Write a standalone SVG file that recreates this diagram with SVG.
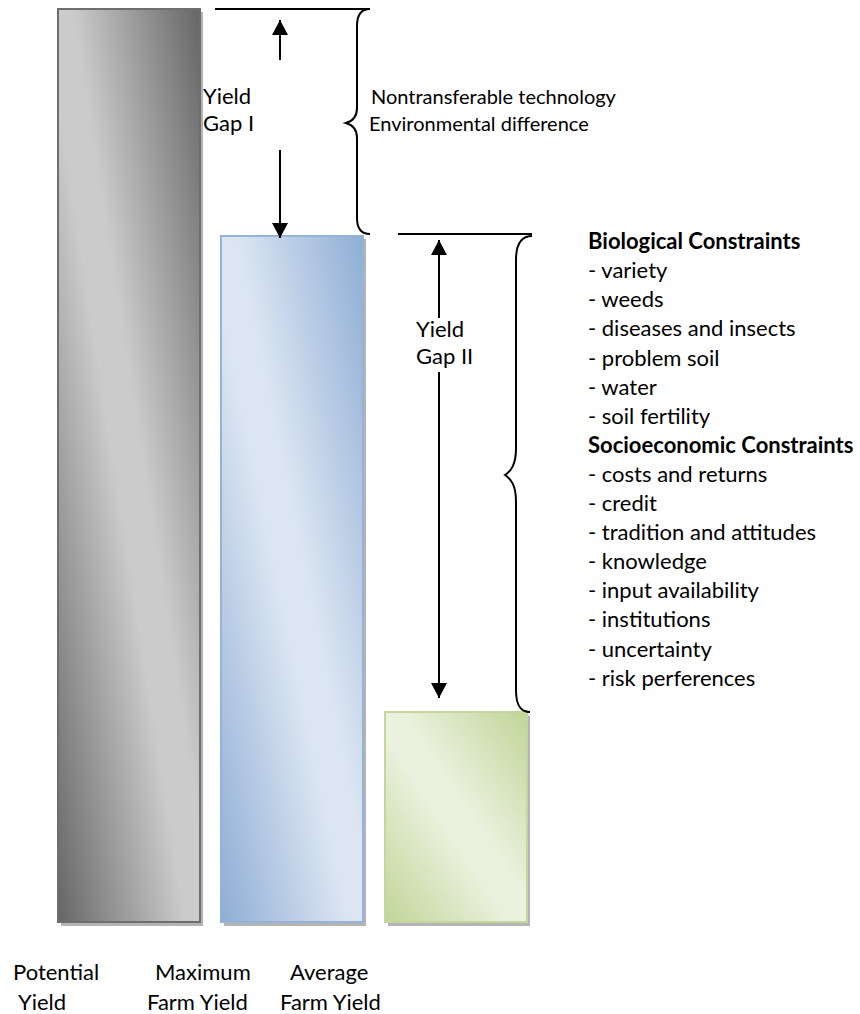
<svg xmlns="http://www.w3.org/2000/svg" width="860" height="1014" viewBox="0 0 860 1014">
<defs>
<style>
text{font-family:Lato,"Open Sans","Liberation Sans",sans-serif;font-size:22px;fill:#000}
.s{font-size:20px}
.b{font-weight:bold}
.ln{stroke:#000;stroke-width:2;fill:none}
.shadow{fill:#b4b4b4}
</style>
<linearGradient id="gGray" x1="1" y1="0" x2="0" y2="1">
<stop offset="0" stop-color="#666"/>
<stop offset="0.45" stop-color="#cbcbcb"/>
<stop offset="0.55" stop-color="#cbcbcb"/>
<stop offset="1" stop-color="#666"/>
</linearGradient>
<linearGradient id="gBlue" x1="1" y1="0" x2="0" y2="1">
<stop offset="0" stop-color="#8fadd5"/>
<stop offset="0.45" stop-color="#dce6f2"/>
<stop offset="0.55" stop-color="#dce6f2"/>
<stop offset="1" stop-color="#8fadd5"/>
</linearGradient>
<linearGradient id="gGreen" x1="1" y1="0" x2="0" y2="1">
<stop offset="0" stop-color="#c0d598"/>
<stop offset="0.45" stop-color="#ebf1de"/>
<stop offset="0.55" stop-color="#ebf1de"/>
<stop offset="1" stop-color="#c0d598"/>
</linearGradient>
<marker id="ahd" viewBox="0 0 16 15" refX="8" refY="15" markerWidth="16" markerHeight="15" markerUnits="userSpaceOnUse" orient="0">
<path d="M0,0 L16,0 L8,15 Z" fill="#000"/>
</marker>
<marker id="ahu" viewBox="0 0 16 15" refX="8" refY="0" markerWidth="16" markerHeight="15" markerUnits="userSpaceOnUse" orient="0">
<path d="M0,15 L16,15 L8,0 Z" fill="#000"/>
</marker>
</defs>

<g id="bar-potential">
<rect class="shadow" x="61" y="12" width="142" height="914"/>
<rect x="58" y="9" width="142" height="913" fill="url(#gGray)" stroke="#6e6e6e" stroke-width="2"/>
</g>
<g id="bar-maximum">
<rect class="shadow" x="224" y="239" width="142" height="687"/>
<rect x="221" y="236" width="142" height="686" fill="url(#gBlue)" stroke="#95b3d7" stroke-width="2"/>
</g>
<g id="bar-average">
<rect class="shadow" x="388" y="716" width="142" height="210"/>
<rect x="385" y="712" width="142" height="210" fill="url(#gGreen)" stroke="#c3d69b" stroke-width="2"/>
</g>

<g id="connectors">
<line class="ln" x1="215" y1="9" x2="370" y2="9"/>
<line class="ln" x1="398" y1="234" x2="532" y2="234"/>
<path class="ln" d="M370,9 C361,9 357,15 357,26 L357,108 C357,117 353,121 346,123 C353,125 357,129 357,138 L357,218 C357,229 361,234 370,234"/>
<path class="ln" d="M532,236 C521,236 516,245 516,260 L516,448 C516,465 511,471 505,475 C511,479 516,485 516,502 L516,690 C516,705 520,712 530,712"/>
<line class="ln" x1="280" y1="60" x2="280" y2="20" marker-end="url(#ahu)"/>
<line class="ln" x1="280" y1="150" x2="280" y2="238" marker-end="url(#ahd)"/>
<line class="ln" x1="439" y1="318" x2="439" y2="240" marker-end="url(#ahu)"/>
<line class="ln" x1="439" y1="372" x2="439" y2="698" marker-end="url(#ahd)"/>
</g>

<g id="label-gap1">
<text x="203" y="104">Yield</text>
<text x="203" y="131">Gap  I</text>
</g>
<g id="label-gap1-causes">
<text class="s" x="371" y="104">Nontransferable technology</text>
<text class="s" x="369" y="131">Environmental difference</text>
</g>
<g id="label-gap2">
<text x="416" y="337">Yield</text>
<text x="416" y="364">Gap II</text>
</g>
<g id="constraints">
<text class="b" x="588" y="249">Biological Constraints</text>
<text x="588" y="278">- variety</text>
<text x="588" y="307">- weeds</text>
<text x="588" y="336">- diseases and insects</text>
<text x="588" y="366">- problem soil</text>
<text x="588" y="395">- water</text>
<text x="588" y="424">- soil fertility</text>
<text class="b" x="588" y="453">Socioeconomic Constraints</text>
<text x="588" y="482">- costs and returns</text>
<text x="588" y="511">- credit</text>
<text x="588" y="540">- tradition and attitudes</text>
<text x="588" y="569">- knowledge</text>
<text x="588" y="598">- input availability</text>
<text x="588" y="627">- institutions</text>
<text x="588" y="657">- uncertainty</text>
<text x="588" y="686">- risk perferences</text>
</g>
<g id="axis-labels">
<text x="13" y="980">Potential</text>
<text x="18" y="1010">Yield</text>
<text x="155" y="980">Maximum</text>
<text x="147" y="1010">Farm Yield</text>
<text x="290" y="980">Average</text>
<text x="280" y="1010">Farm Yield</text>
</g>
</svg>
